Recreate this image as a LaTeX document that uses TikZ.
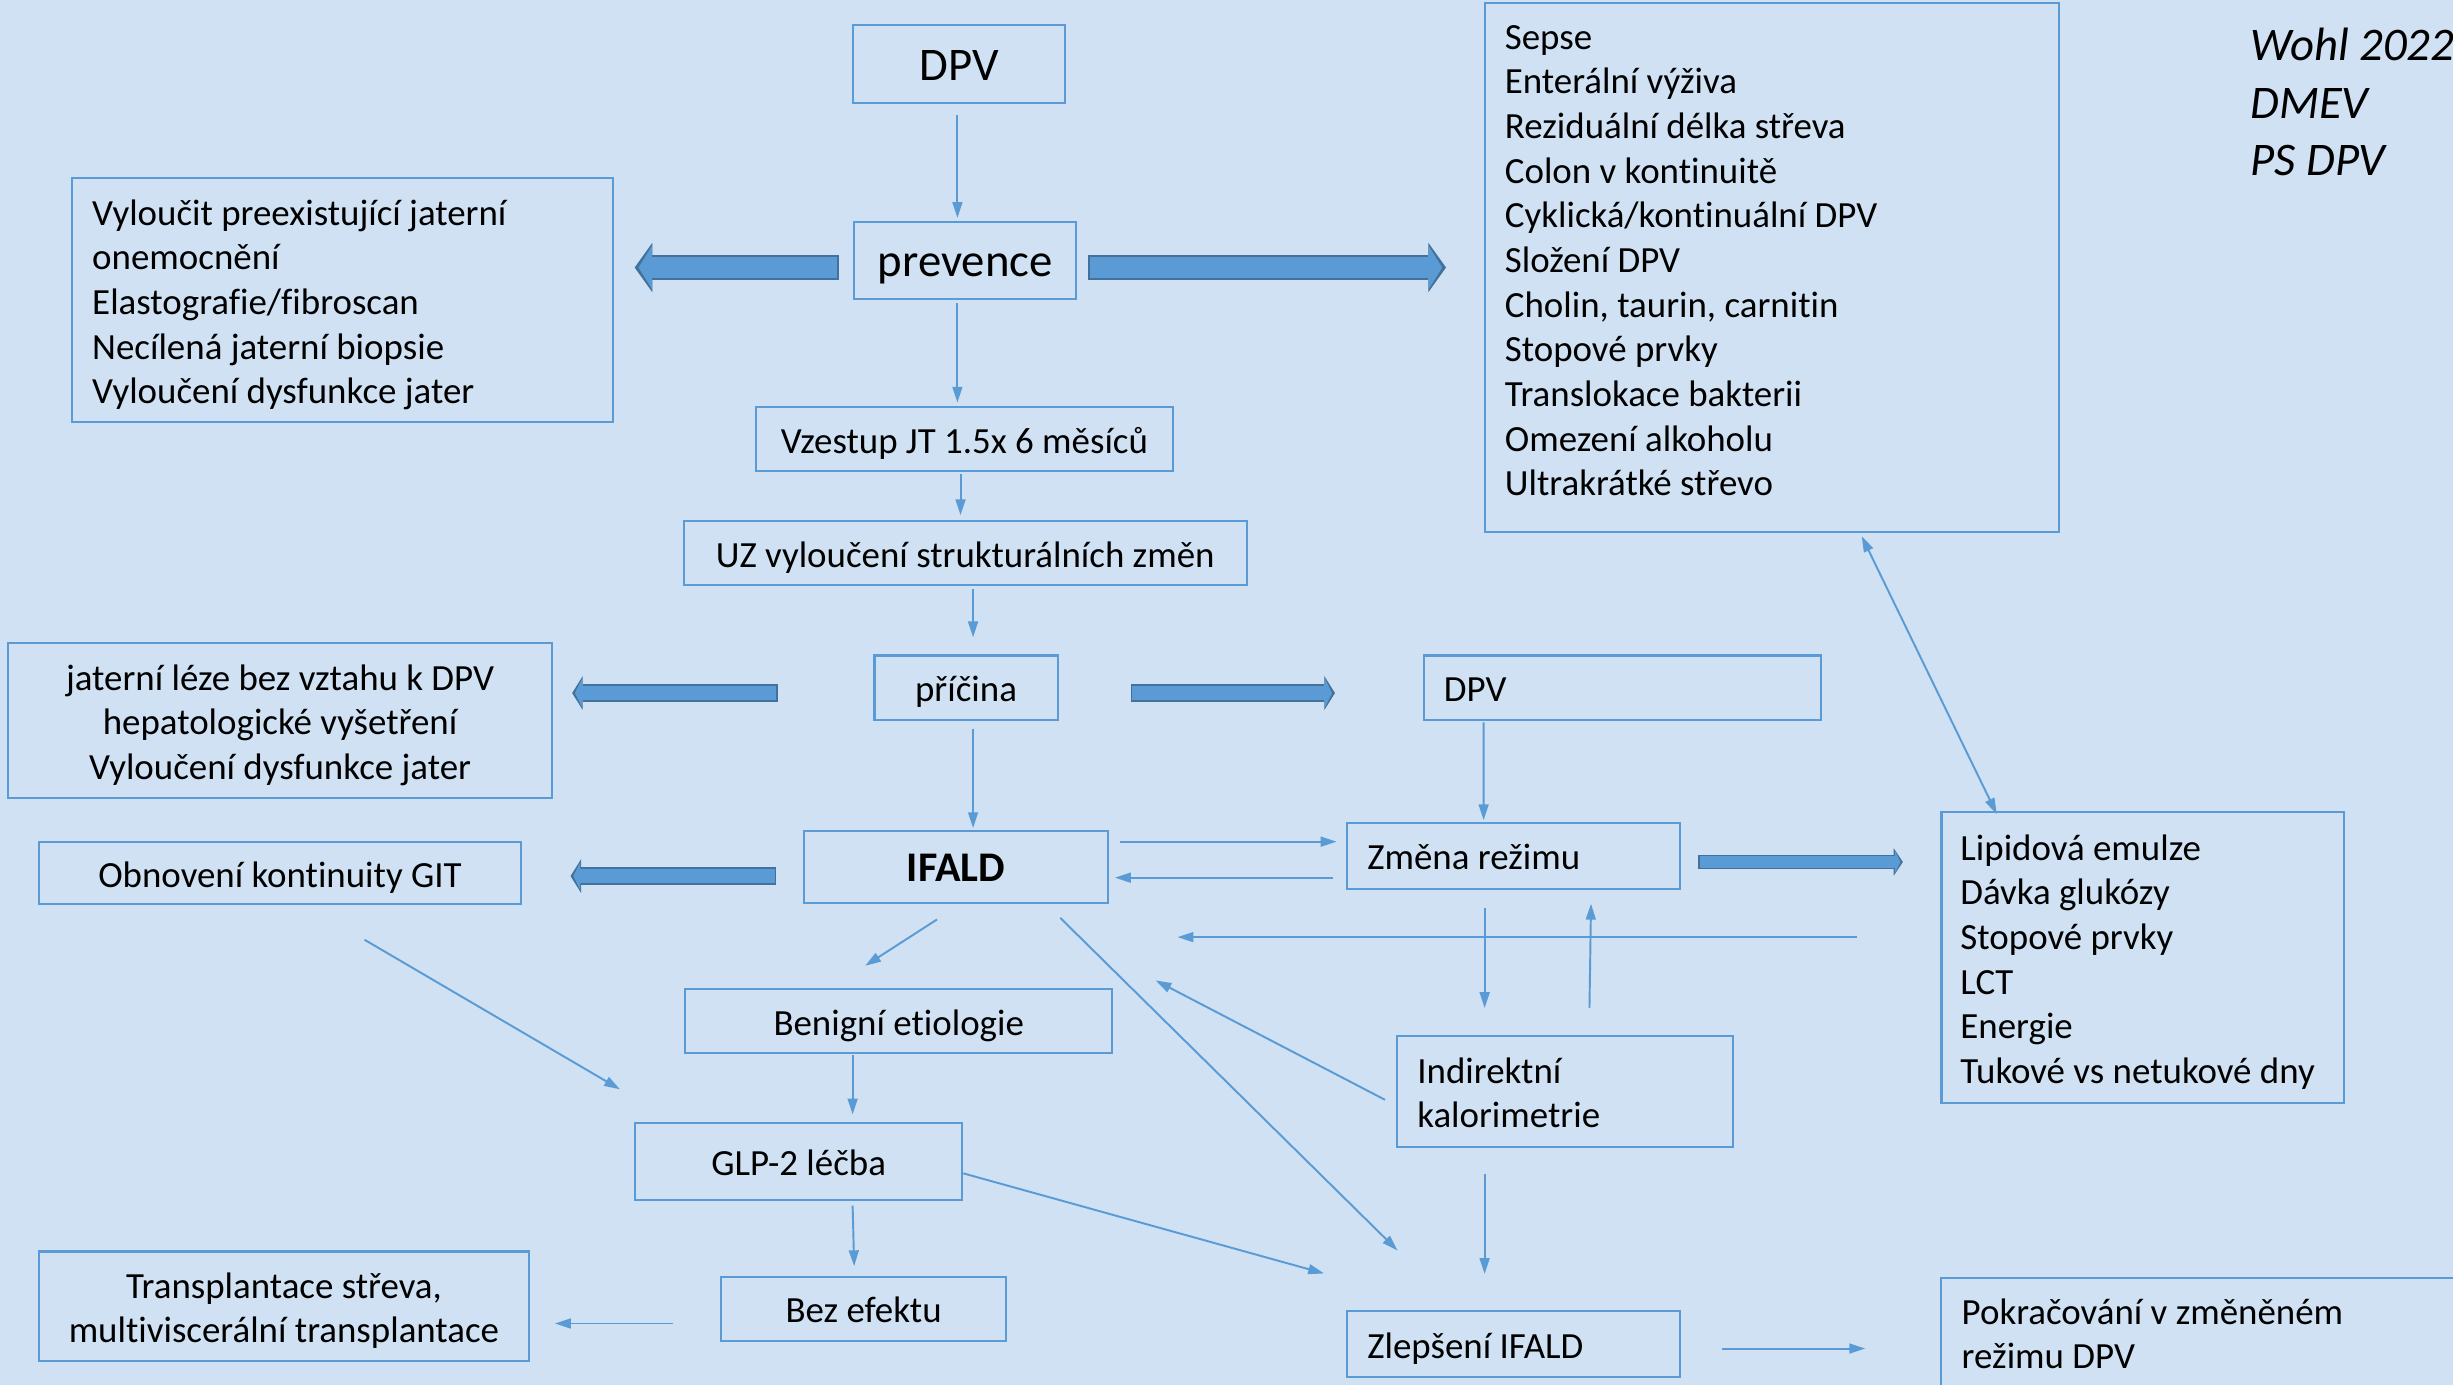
\documentclass[tikz,border=0pt]{standalone}
\usepackage{fontspec}
\setmainfont{Carlito}[Ligatures={NoCommon}]
\usetikzlibrary{arrows.meta,calc}
\definecolor{bgblue}{RGB}{207,225,242}
\definecolor{boxblue}{RGB}{91,155,213}
\definecolor{arrowdark}{RGB}{65,113,156}

\begin{document}
\begin{tikzpicture}[x=0.015644cm, y=-0.015644cm,
    every node/.style={font=\fontsize{10.5}{12.7}\selectfont},
    box/.style={draw=boxblue, line width=0.6pt, inner sep=0pt, align=center,
        execute at begin node={\rule{0pt}{11.3pt}},
        execute at end node={\rule[-3.2pt]{0pt}{1pt}}},
    lbox/.style={box, align=flush left, inner xsep=0.203cm},
    cbox/.style={box, align=flush center, inner xsep=0.203cm},
    big/.style={font=\fontsize{13.3}{16}\selectfont,
        execute at begin node={\rule{0pt}{13.2pt}},
        execute at end node={\rule[-3.94pt]{0pt}{1pt}}},
    conn/.style={draw=boxblue, line width=0.55pt, -{Triangle[length=4.5pt,width=2.8pt]}},
    fatbig/.style={preaction={draw=arrowdark, line width=7.1pt, shorten >=0pt, shorten <=0pt,
        -{Triangle[length=5pt,width=14pt,line width=0pt]}},
        draw=boxblue, line width=5.9pt, shorten >=1.1pt, shorten <=0.6pt,
        -{Triangle[length=3.8pt,width=12.2pt,line width=0pt]}},
    fatmid/.style={preaction={draw=arrowdark, line width=5pt, shorten >=0pt, shorten <=0pt,
        -{Triangle[length=3pt,width=9.6pt,line width=0pt]}},
        draw=boxblue, line width=4pt, shorten >=0.8pt, shorten <=0.5pt,
        -{Triangle[length=2pt,width=8pt,line width=0pt]}},
    fatsmall/.style={preaction={draw=arrowdark, line width=4.1pt, shorten >=0pt, shorten <=0pt,
        -{Triangle[length=2.6pt,width=7.8pt,line width=0pt]}},
        draw=boxblue, line width=3.2pt, shorten >=0.7pt, shorten <=0.5pt,
        -{Triangle[length=1.6pt,width=6.4pt,line width=0pt]}}]

    \useasboundingbox (0,0) rectangle (1568,885);
    \fill[bgblue] (0,0) rectangle (1568,885);

    % upper part
    \node[box, big, minimum width=2.128cm, minimum height=0.782cm] (dpv1) at (613,41) {DPV};
    \node[box, big, minimum width=2.221cm, minimum height=0.767cm] (prev) at (617,166.5) {prevence};
    \node[lbox, text width=5.006cm, minimum height=2.440cm] (prevl) at (219,192)
        {Vyloučit preexistující jaterní\\onemocnění\\Elastografie/fibroscan\\Necílená jaterní biopsie\\Vyloučení dysfunkce jater};
    \node[lbox, text width=5.335cm, minimum height=5.288cm,
        execute at end node={\rule[-8.5pt]{0pt}{1pt}}] (risk) at (1132.5,171)
        {Sepse\\Enterální výživa\\Reziduální délka střeva\\Colon v kontinuitě\\Cyklická/kontinuální DPV\\Složení DPV\\Cholin, taurin, carnitin\\Stopové prvky\\Translokace bakterii\\Omezení alkoholu\\Ultrakrátké střevo};
    \node[anchor=north west, inner sep=0pt, align=left, font=\itshape\fontsize{13.3}{16.4}\selectfont] (wohl) at (1438,17.5)
        {Wohl 2022\\DMEV\\PS DPV};
    \node[box, minimum width=4.177cm, minimum height=0.641cm] (vzestup) at (616.5,280.5) {Vzestup JT 1.5x 6 měsíců};
    \node[box, minimum width=5.632cm, minimum height=0.641cm] (uz) at (617,353.5) {UZ vyloučení strukturálních změn};
    \node[box, minimum width=1.830cm, minimum height=0.641cm] (pricina) at (617.5,439.5) {příčina};
    \node[cbox, text width=5.038cm, minimum height=1.549cm] (jlez) at (179,460.5)
        {jaterní léze bez vztahu k DPV\\hepatologické vyšetření\\Vyloučení dysfunkce jater};
    \node[lbox, text width=3.567cm, minimum height=0.641cm] (dpv2) at (1037,439.5) {DPV};

    % middle part
    \node[box, minimum width=3.035cm, minimum height=0.720cm, font=\bfseries\fontsize{12}{14}\selectfont,
        execute at begin node={\rule{0pt}{12.2pt}},
        execute at end node={\rule[-3.77pt]{0pt}{1pt}}] (ifald) at (611,554) {IFALD};
    \node[box, minimum width=4.818cm, minimum height=0.626cm] (obnov) at (179,558) {Obnovení kontinuity GIT};
    \node[lbox, text width=2.925cm, minimum height=0.657cm] (zmena) at (967.5,547) {Změna režimu};
    \node[lbox, text width=3.64cm, inner xsep=0.19cm, minimum height=2.910cm] (lipid) at (1369.5,612)
        {Lipidová emulze\\Dávka glukózy\\Stopové prvky\\LCT\\Energie\\Tukové vs netukové dny};
    \node[box, minimum width=4.271cm, minimum height=0.641cm] (benig) at (574.5,652.5) {Benigní etiologie};
    \node[lbox, text width=2.957cm, minimum height=1.111cm] (kalor) at (1000.5,697.5) {Indirektní\\kalorimetrie};

    % lower part
    \node[box, minimum width=3.270cm, minimum height=0.767cm] (glp) at (510.5,742.5) {GLP-2 léčba};
    \node[cbox, text width=4.491cm, minimum height=1.095cm] (transpl) at (181.5,835)
        {Transplantace střeva,\\multiviscerální transplantace};
    \node[box, minimum width=2.847cm, minimum height=0.641cm] (bez) at (552,836.5) {Bez efektu};
    \node[lbox, text width=2.925cm, minimum height=0.657cm] (zlep) at (967.5,859) {Zlepšení IFALD};
    \node[lbox, text width=4.975cm, minimum height=1.079cm] (pokr) at (1413,851.5)
        {Pokračování v změněném\\režimu DPV};

    % thin arrows
    \draw[conn] ($(dpv1.south)+(-1,7)$) -- ($(prev.north)+(-5,-2)$);
    \draw[conn] ($(prev.south)+(-5,2)$) -- ($(vzestup.north)+(-4.5,-2)$);
    \draw[conn] ($(vzestup.south)+(-2.5,1)$) -- ($(uz.north)+(-3,-3)$);
    \draw[conn] ($(uz.south)+(5,2)$) -- ($(pricina.north)+(4.5,-11)$);
    \draw[conn] ($(pricina.south)+(4.5,5)$) -- ($(ifald.north)+(11,-1)$);
    \draw[conn] ($(dpv2.south west)+(39,1)$) -- ($(zmena.north west)+(88,-1)$);
    \draw[conn] ($(ifald.east)+(7,-16)$) -- ($(zmena.west)+(-6,-9)$);
    \draw[conn] ($(zmena.west)+(-8,14)$) -- ($(ifald.east)+(4,7)$);
    \draw[conn] ($(lipid.west)+(-53,-13)$) -- ($(ifald.east)+(44,45)$);
    \draw[conn] ($(zmena.south)+(-18.5,12)$) -- ($(kalor.north)+(-51.5,-17)$);
    \draw[conn] ($(kalor.north)+(15.5,-17)$) -- ($(zmena.south)+(49.5,9)$);
    \draw[conn] ($(kalor.west)+(-7,5.5)$) -- ($(ifald.south east)+(30,49)$);
    \draw[conn] ($(ifald.south)+(-12,10)$) -- ($(benig.north)+(-21.5,-14)$);
    \draw[conn] ($(ifald.south east)+(-31,9)$) -- ($(zlep.north west)+(33,-38)$);
    \draw[conn] ($(obnov.south)+(54,22)$) -- ($(glp.north west)+(-9,-21)$);
    \draw[conn] ($(benig.south)+(-29.5,1)$) -- ($(glp.north)+(34.5,-5)$);
    \draw[conn] ($(glp.south)+(34.5,3)$) -- ($(bez.north)+(-6,-6)$);
    \draw[conn] ($(glp.east)+(0,7.5)$) -- ($(zlep.west)+(-14,-45)$);
    \draw[conn] ($(kalor.south)+(-51.5,17)$) -- ($(zlep.north)+(-18.5,-23)$);
    \draw[conn] ($(bez.west)+(-30,9.5)$) -- ($(transpl.east)+(16,11)$);
    \draw[conn] ($(zlep.east)+(26,3)$) -- ($(pokr.west)+(-48,10.5)$);
    \draw[conn, {Triangle[length=4.5pt,width=2.8pt]}-{Triangle[length=4.5pt,width=2.8pt]}]
        ($(lipid.north west)+(36,2)$) -- ($(risk.south)+(57.5,2)$);

    % block arrows
    \draw[fatbig] ($(prev.west)+(-9,4.5)$) -- ($(prevl.east)+(13,-21)$);
    \draw[fatbig] ($(prev.east)+(7,4.5)$) -- ($(risk.west)+(-24,0)$);
    \draw[fatmid] ($(pricina.west)+(-61,3.5)$) -- ($(jlez.east)+(12,-17.5)$);
    \draw[fatmid] ($(pricina.east)+(46,3.5)$) -- ($(dpv2.west)+(-56,3.5)$);
    \draw[fatmid] ($(ifald.west)+(-17,6)$) -- ($(obnov.east)+(31,2)$);
    \draw[fatsmall] ($(zmena.east)+(11,4)$) -- ($(lipid.west)+(-24,-61)$);
\end{tikzpicture}
\end{document}
